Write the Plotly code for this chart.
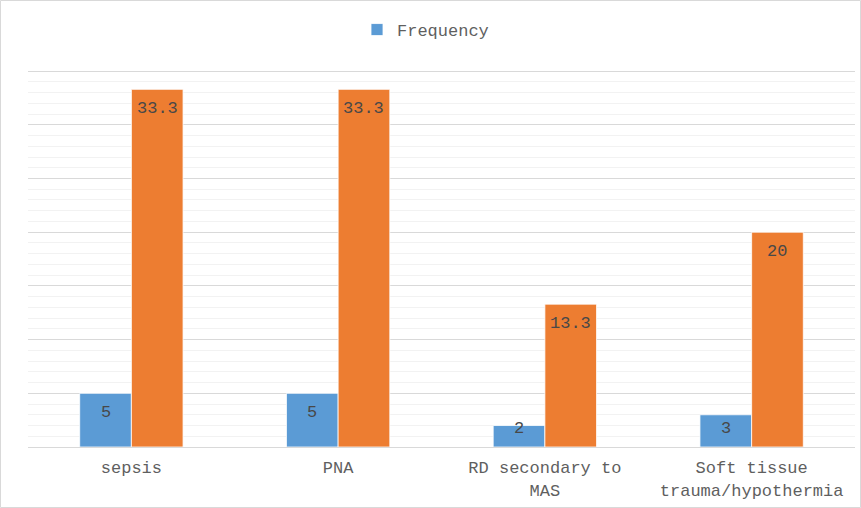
import plotly.graph_objects as go

categories = ["sepsis", "PNA", "RD secondary to<br>MAS", "Soft tissue<br>trauma/hypothermia"]
frequency = [5, 5, 2, 3]
percent = [33.3, 33.3, 13.3, 20]

W, H = 861, 508
ml, mr, mt, mb = 28, 6, 70, 61
pw = W - ml - mr
ph = H - mt - mb
y_top = 35
y_max = 35.1
px_per_unit = ph / y_max

font_family = "Liberation Mono, Courier New, monospace"
label_font = dict(family=font_family, size=17, color="#484848")

fig = go.Figure()
fig.add_trace(go.Bar(
    name="Frequency", x=categories, y=frequency,
    marker=dict(color="#5B9BD5", line=dict(color="#ffffff", width=0.8)),
))
fig.add_trace(go.Bar(
    name="Percent", x=categories, y=percent, showlegend=False,
    marker=dict(color="#ED7D31", line=dict(color="#ffffff", width=0.8)),
))

# value labels placed inside the top end of each bar
inset = 19 / px_per_unit
for offset, values in ((-0.125, frequency), (0.125, percent)):
    for i, v in enumerate(values):
        fig.add_annotation(x=i + offset, y=max(v - inset, inset), xref="x", yref="y",
                           text=str(v), showarrow=False, yanchor="middle",
                           font=label_font)

# outer chart frame
fig.add_shape(type="rect", xref="paper", yref="paper",
              x0=(0.5 - ml) / pw, x1=(W - 0.5 - ml) / pw,
              y0=-(mb - 0.5) / ph, y1=1 + (mt - 0.5) / ph,
              line=dict(color="#d9d9d9", width=1), fillcolor="rgba(0,0,0,0)", layer="below")

fig.update_layout(
    width=W, height=H,
    margin=dict(l=ml, r=mr, t=mt, b=mb),
    paper_bgcolor="white", plot_bgcolor="white",
    barmode="group", bargap=0.5, bargroupgap=0,
    font=dict(family=font_family, size=17, color="#5f5f5f"),
    legend=dict(orientation="h", x=0.5 - 16 / pw, xanchor="center", y=1 + (mt - 30) / ph,
                yanchor="middle",
                font=dict(family=font_family, size=17, color="#5f5f5f")),
    xaxis=dict(showline=True, linecolor="#d9d9d9", linewidth=1, ticks="",
               ticklabelstandoff=5,
               tickfont=dict(family=font_family, size=17, color="#5f5f5f"),
               showgrid=False),
    yaxis=dict(range=[0, y_max], tick0=0, dtick=5, showgrid=True, gridcolor="#d9d9d9",
               gridwidth=1, showticklabels=False, zeroline=False,
               minor=dict(dtick=1, showgrid=True, gridcolor="#f2f2f2", gridwidth=1)),
)

fig.write_html("out.html")
